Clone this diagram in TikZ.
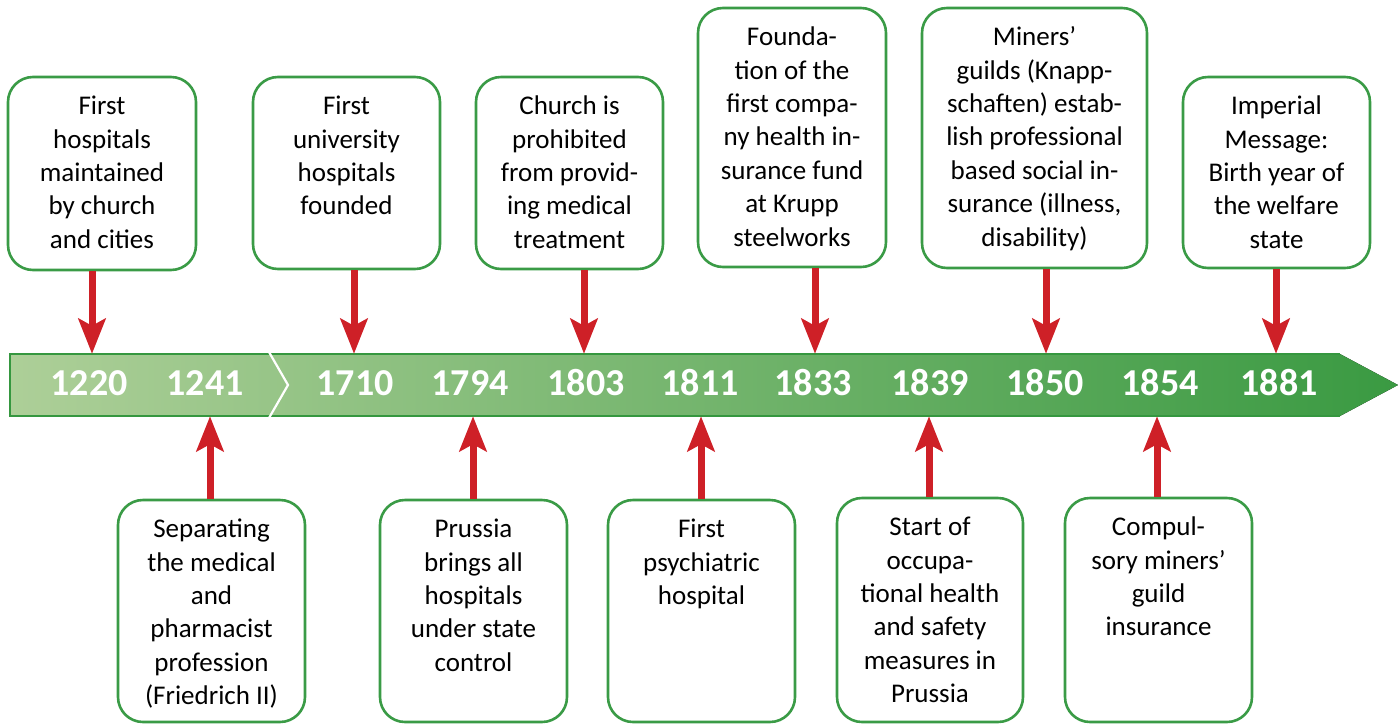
\documentclass[tikz,border=0pt]{standalone}
\usepackage{fontspec}
\setmainfont{Carlito}
\usetikzlibrary{arrows.meta}
\definecolor{boxgreen}{HTML}{3A9B46}
\definecolor{barline}{HTML}{35973F}
\definecolor{barL}{HTML}{ADCF98}
\definecolor{barR}{HTML}{3A9A42}
\definecolor{arrowred}{HTML}{CE2027}
\tikzset{
  evbox/.style={draw=boxgreen, line width=2.6pt, rounded corners=25pt, fill=white, inner sep=0pt},
  evtext/.style={anchor=base, inner sep=0pt, text=black, font=\fontsize{27}{33.4}\selectfont},
  year/.style={anchor=base, inner sep=0pt, text=white, font=\bfseries\fontsize{38}{42}\selectfont},
  arr/.style={draw=arrowred, line width=7pt, -{Stealth[length=35pt, width=27pt, inset=7pt]}},
}
\newcommand\evlines[2]{\parbox[t]{#1pt}{\centering #2}}
\begin{document}
\begin{tikzpicture}[x=1pt, y=-1pt]
\useasboundingbox (0,0) rectangle (1398,724);

% timeline bar
\fill[left color=barL, right color=barR] (10,354) -- (1340,354) -- (1398,385) -- (1340,416) -- (10,416) -- cycle;
\draw[barline, line width=2.8pt] (1340,354) -- (10,354) -- (10,416) -- (1340,416);
\draw[white, line width=2.2pt] (269,352) -- (288,385) -- (269,418);
\node[minimum width=1330pt, minimum height=62pt, inner sep=0pt] (bar) at (675,385) {};

% years
\node[year] (y1220) at (89,395) {1220};
\node[year] (y1241) at (205,395) {1241};
\node[year] (y1710) at (355,395) {1710};
\node[year] (y1794) at (470,395) {1794};
\node[year] (y1803) at (586,395) {1803};
\node[year] (y1811) at (700,395) {1811};
\node[year] (y1833) at (813,395) {1833};
\node[year] (y1839) at (930,395) {1839};
\node[year] (y1850) at (1045,395) {1850};
\node[year] (y1854) at (1160,395) {1854};
\node[year] (y1881) at (1279,395) {1881};

% arrow positions
\coordinate (p1) at (92,385);
\coordinate (p2) at (210,385);
\coordinate (p3) at (354,385);
\coordinate (p4) at (473,385);
\coordinate (p5) at (584,385);
\coordinate (p6) at (701,385);
\coordinate (p7) at (815,385);
\coordinate (p8) at (929,385);
\coordinate (p9) at (1046,385);
\coordinate (p10) at (1157,385);
\coordinate (p11) at (1276,385);

% top boxes
\node[evbox, minimum width=188pt, minimum height=193pt] (b1) at (102,173.5) {};
\node[evbox, minimum width=187pt, minimum height=192pt] (b2) at (346.5,173) {};
\node[evbox, minimum width=187pt, minimum height=192pt] (b3) at (569.5,173) {};
\node[evbox, minimum width=188pt, minimum height=259pt] (b4) at (792,137.5) {};
\node[evbox, minimum width=225pt, minimum height=260pt] (b5) at (1034.5,138) {};
\node[evbox, minimum width=187pt, minimum height=191pt] (b6) at (1276.5,172.5) {};

\node[evtext] (t1) at ([yshift=-39pt]b1.north) {\evlines{180}{First\\hospitals\\maintained\\by church\\and cities}};
\node[evtext] (t2) at ([yshift=-39pt]b2.north) {\evlines{180}{First\\university\\hospitals\\founded}};
\node[evtext] (t3) at ([yshift=-39pt]b3.north) {\evlines{180}{Church is\\prohibited\\from provid-\\ing medical\\treatment}};
\node[evtext] (t4) at ([yshift=-39pt]b4.north) {\evlines{180}{Founda-\\tion of the\\first compa-\\ny health in-\\surance fund\\at Krupp\\steelworks}};
\node[evtext] (t5) at ([yshift=-39pt]b5.north) {\evlines{215}{Miners’\\guilds (Knapp-\\schaften) estab-\\lish professional\\based social in-\\surance (illness,\\disability)}};
\node[evtext] (t6) at ([yshift=-39pt]b6.north) {\evlines{180}{Imperial\\Message:\\Birth year of\\the welfare\\state}};

% bottom boxes
\node[evbox, minimum width=187pt, minimum height=222pt] (c1) at (211.5,611) {};
\node[evbox, minimum width=187pt, minimum height=222pt] (c2) at (473.5,611) {};
\node[evbox, minimum width=187pt, minimum height=222pt] (c3) at (701.5,611) {};
\node[evbox, minimum width=186pt, minimum height=224pt] (c4) at (930,610) {};
\node[evbox, minimum width=187pt, minimum height=224pt] (c5) at (1158.5,610) {};

\node[evtext] (u1) at ([yshift=-39pt]c1.north) {\evlines{180}{Separating\\the medical\\and\\pharmacist\\profession\\(Friedrich II)}};
\node[evtext] (u2) at ([yshift=-39pt]c2.north) {\evlines{180}{Prussia\\brings all\\hospitals\\under state\\control}};
\node[evtext] (u3) at ([yshift=-39pt]c3.north) {\evlines{180}{First\\psychiatric\\hospital}};
\node[evtext] (u4) at ([yshift=-39pt]c4.north) {\evlines{180}{Start of\\occupa-\\tional health\\and safety\\measures in\\Prussia}};
\node[evtext] (u5) at ([yshift=-39pt]c5.north) {\evlines{180}{Compul-\\sory miners’\\guild\\insurance}};

% arrows down
\draw[arr] (b1.south -| p1) -- (p1 |- bar.north);
\draw[arr] (b2.south -| p3) -- (p3 |- bar.north);
\draw[arr] (b3.south -| p5) -- (p5 |- bar.north);
\draw[arr] (b4.south -| p7) -- (p7 |- bar.north);
\draw[arr] (b5.south -| p9) -- (p9 |- bar.north);
\draw[arr] (b6.south -| p11) -- (p11 |- bar.north);
% arrows up
\draw[arr] (c1.north -| p2) -- (p2 |- bar.south);
\draw[arr] (c2.north -| p4) -- (p4 |- bar.south);
\draw[arr] (c3.north -| p6) -- (p6 |- bar.south);
\draw[arr] (c4.north -| p8) -- (p8 |- bar.south);
\draw[arr] (c5.north -| p10) -- (p10 |- bar.south);
\end{tikzpicture}
\end{document}
